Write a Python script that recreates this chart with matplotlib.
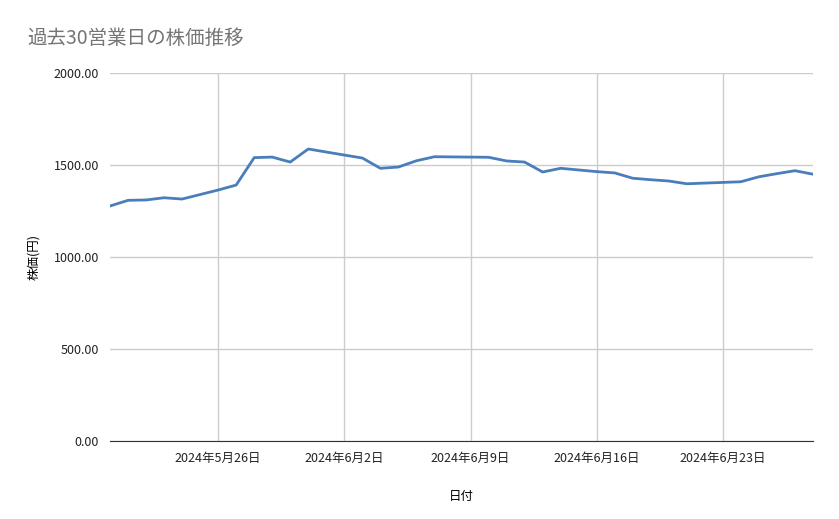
import matplotlib
matplotlib.use('Agg')
import matplotlib.pyplot as plt
import matplotlib.dates as mdates
import numpy as np
import datetime as dt

plt.rcParams['font.family'] = ['Noto Sans CJK JP', 'DejaVu Sans']

# day offsets from 2024-05-20 and prices
day_offsets = [0, 1, 2, 3, 4, 6, 7, 8, 9, 10, 11, 13, 14, 15, 16, 17, 18,
               21, 22, 23, 24, 25, 27, 28, 29, 30, 31, 32, 35, 36, 37, 38, 39]
prices = [1277, 1308, 1310, 1322, 1315, 1364, 1391, 1540, 1543, 1516, 1587,
          1554, 1538, 1482, 1489, 1523, 1545, 1542, 1522, 1516, 1462, 1482,
          1464, 1457, 1428, 1420, 1413, 1398, 1409, 1436, 1453, 1469, 1450]
tick_days = [6, 13, 20, 27, 34]

start = dt.date(2024, 5, 20)
dates = [start + dt.timedelta(days=d) for d in day_offsets]
ticks = [start + dt.timedelta(days=d) for d in tick_days]

fig = plt.figure(figsize=(8.39, 5.19), dpi=100)
ax = fig.add_axes([110/839, 1 - 441/519, (813-110)/839, (441-73)/519])
ax.plot(dates, prices, color='#4a7ebb', linewidth=2)

ax.set_xlim(start, start + dt.timedelta(days=39))
ax.set_ylim(0, 2000)
ax.set_yticks([0, 500, 1000, 1500, 2000])
ax.set_yticklabels([f'{v:.2f}' for v in [0, 500, 1000, 1500, 2000]])
ax.set_xticks(ticks)
ax.set_xticklabels([f'{t.year}年{t.month}月{t.day}日' for t in ticks])
ax.grid(True, color='#cccccc', linewidth=1)
ax.set_axisbelow(True)
for s in ['top', 'right', 'left']:
    ax.spines[s].set_visible(False)
ax.spines['bottom'].set_color('#333333')
ax.tick_params(length=0, labelsize=9, colors='#222222', pad=8)

ax.set_xlabel('日付', fontsize=9, labelpad=18)
ax.set_ylabel('株価(円)', fontsize=9, labelpad=10)
fig.text(27/839, 1 - 38/519, '過去30営業日の株価推移', fontsize=14, color='#757575', va='center')

fig.savefig('out.png', dpi=100)
